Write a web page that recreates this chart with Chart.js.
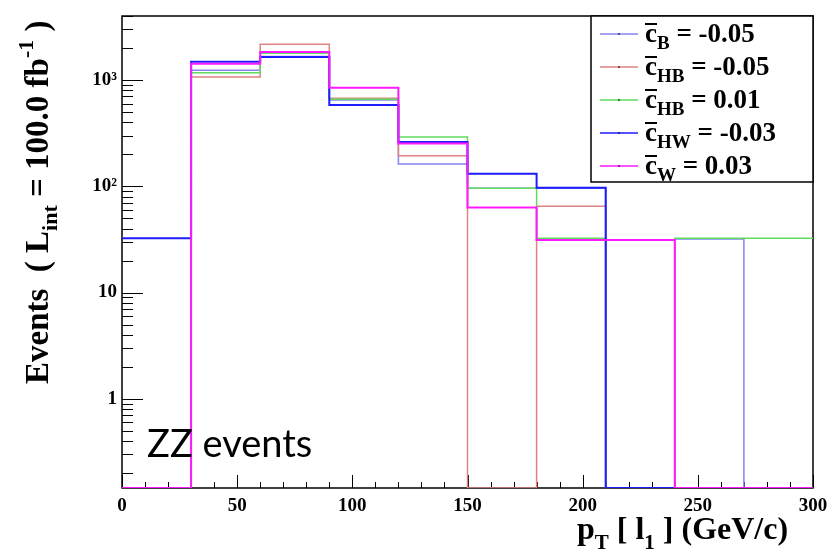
<!DOCTYPE html>
<html>
<head>
<meta charset="utf-8">
<script src="https://cdn.jsdelivr.net/npm/chart.js@4.4.1/dist/chart.umd.min.js"></script>
<style>
  body { margin: 0; background: #fff; }
  #wrap { width: 827px; height: 554px; }
</style>
</head>
<body>
<div id="wrap"><canvas id="ptChart" width="827" height="554"></canvas></div>
<script>
// p_T [l1] bin edges (GeV/c), 30 GeV bins
const binEdges = [0, 30, 60, 90, 120, 150, 180, 210, 240, 270, 300];

// events per bin, 0 = empty bin
const cB_m005  = [0, 1233, 1660, 649, 162, 96, 96, 0, 32, 0];
const cHB_m005 = [0, 1067, 2164, 672, 194, 0, 65, 0, 0, 0];
const cHB_p001 = [0, 1172, 1781, 660, 291, 96, 32.4, 0, 32.4, 32.4];
const cHW_m003 = [32.4, 1486, 1645, 582, 261, 131, 97, 0, 0, 0];
const cW_p003  = [0, 1424, 1833, 847, 252, 63, 31.2, 31.2, 0, 0];

const legendSub = ["B", "HB", "HB", "HW", "W"];
const legendVal = ["-0.05", "-0.05", "0.01", "-0.03", "0.03"];
const lineColors = ["#8484ee", "#de8282", "#5fdc5f", "#1c1cff", "#ff19ff"];
const lineWidths = [1.5, 1.5, 1.5, 2, 2];

const yTickValues = [1, 10, 100, 1000];
const yTickLabels = ["1", "10", "10²", "10³"];
const Y_MIN = 0.145, Y_MAX = 4000;

const SERIF = '"Liberation Serif", "Times New Roman", serif';

// histogram as step line: one point per left bin edge + closing point
function stepPoints(vals) {
    const pts = vals.map((v, i) => ({ x: binEdges[i], y: v > 0 ? v : Y_MIN }));
    pts.push({ x: binEdges[binEdges.length - 1], y: pts[pts.length - 1].y });
    return pts;
}

const series = [cB_m005, cHB_m005, cHB_p001, cHW_m003, cW_p003];

// frame and inner ticks, ROOT style
const framePlugin = {
    id: "frame",
    beforeDatasetsDraw(chart) {
        const { ctx, chartArea: a, scales: { x, y } } = chart;
        ctx.save();
        ctx.strokeStyle = "#000";
        ctx.lineWidth = 1;
        ctx.beginPath();
        // y ticks
        for (let e = -1; e <= 3; e++) {
            for (let k = 1; k <= 9; k++) {
                const v = k * Math.pow(10, e);
                if (v < Y_MIN || v > Y_MAX) continue;
                const py = Math.round(y.getPixelForValue(v)) + 0.5;
                const len = k === 1 ? 21 : 11;
                ctx.moveTo(a.left, py);
                ctx.lineTo(a.left + len, py);
            }
        }
        // x ticks
        for (let v = 0; v <= 300; v += 10) {
            const px = Math.round(x.getPixelForValue(v)) + 0.5;
            const len = v % 50 === 0 ? 13 : 6;
            ctx.moveTo(px, a.bottom);
            ctx.lineTo(px, a.bottom - len);
        }
        ctx.stroke();
        ctx.lineWidth = 1.5;
        ctx.strokeRect(a.left, a.top, a.right - a.left, a.bottom - a.top);
        ctx.restore();
    }
};

function putText(ctx, pieces, x0, y0) {
    let x = x0;
    pieces.forEach(p => {
        ctx.font = p[1];
        ctx.fillText(p[0], x, y0 + p[2]);
        x += ctx.measureText(p[0]).width;
    });
}

const textPlugin = {
    id: "texts",
    afterDraw(chart) {
        const ctx = chart.ctx;
        ctx.save();
        ctx.fillStyle = "#000";
        ctx.textBaseline = "alphabetic";
        ctx.textAlign = "left";

        // y title, rotated
        const big = "bold 33px " + SERIF, small = "bold 22px " + SERIF;
        ctx.save();
        ctx.translate(48, 384);
        ctx.rotate(-Math.PI / 2);
        putText(ctx, [["Events  ( L", big, 0], ["int", small, 9], [" = 100.0 fb", big, 0],
                      ["-1", small, -15], [" )", big, 0]], 0, 0);
        ctx.restore();

        // x title
        const xb = "bold 32px " + SERIF, xs = "bold 21px " + SERIF;
        putText(ctx, [["p", xb, 0], ["T", xs, 10], [" [ l", xb, 0], ["1", xs, 10],
                      [" ] (GeV/c)", xb, 0]], 577, 539);

        // ZZ events label
        ctx.font = '38px Lato, "Open Sans", sans-serif';
        ctx.fillText("ZZ events", 147, 457);

        // legend box
        const lx = 591, ly = 16, lw = 222, lh = 166;
        ctx.fillStyle = "#fff";
        ctx.fillRect(lx, ly, lw, lh);
        ctx.strokeStyle = "#000";
        ctx.lineWidth = 1.5;
        ctx.strokeRect(lx, ly, lw, lh);
        const lb = "bold 27px " + SERIF, ls = "bold 19px " + SERIF;
        legendSub.forEach((sub, i) => {
            const cy = 34 + 33 * i;
            ctx.strokeStyle = lineColors[i];
            ctx.lineWidth = 1.5;
            ctx.beginPath();
            ctx.moveTo(600, cy);
            ctx.lineTo(638, cy);
            ctx.stroke();
            ctx.fillStyle = "#000";
            ctx.fillRect(618, cy - 0.5, 2, 1);
            const base = cy + 8;
            ctx.font = lb;
            const cw = ctx.measureText("c").width;
            ctx.fillRect(645, base - 19, cw, 2);
            putText(ctx, [["c", lb, 0], [sub, ls, 7], [" = " + legendVal[i], lb, 0]], 645, base);
        });
        ctx.restore();
    }
};

new Chart(document.getElementById("ptChart").getContext("2d"), {
    type: "line",
    data: {
        datasets: series.map((vals, i) => ({
            label: legendSub[i] + " " + legendVal[i],
            data: stepPoints(vals),
            stepped: "before",
            borderColor: lineColors[i],
            borderWidth: lineWidths[i],
            pointRadius: 0,
            fill: false,
            order: series.length - i
        }))
    },
    options: {
        responsive: false,
        animation: false,
        devicePixelRatio: 1,
        layout: { padding: { top: 16, right: 14, left: 0, bottom: 0 } },
        plugins: { legend: { display: false }, tooltip: { enabled: false } },
        scales: {
            x: {
                type: "linear", min: 0, max: 300,
                grid: { display: false, drawTicks: false },
                border: { display: false },
                afterFit: s => { s.height = 66; s.paddingLeft = 0; s.paddingRight = 0; },
                ticks: { stepSize: 50, padding: 7, color: "#000", maxRotation: 0,
                         font: { family: SERIF, size: 19, weight: "bold" } }
            },
            y: {
                type: "logarithmic", min: Y_MIN, max: Y_MAX,
                grid: { display: false, drawTicks: false },
                border: { display: false },
                afterFit: s => { s.width = 122; s.paddingTop = 0; s.paddingBottom = 0; },
                afterBuildTicks: s => { s.ticks = yTickValues.map(v => ({ value: v })); },
                ticks: { autoSkip: false, padding: 5, color: "#000",
                         font: { family: SERIF, size: 19, weight: "bold" },
                         callback: v => { const k = yTickValues.indexOf(v); return k >= 0 ? yTickLabels[k] : ""; } }
            }
        }
    },
    plugins: [framePlugin, textPlugin]
});
</script>
</body>
</html>
